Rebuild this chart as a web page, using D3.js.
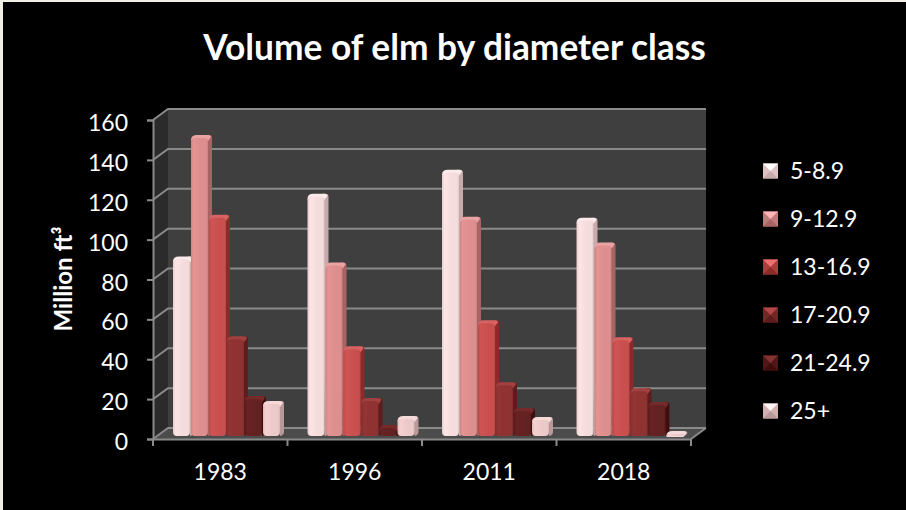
<!DOCTYPE html>
<html><head><meta charset="utf-8">
<script src="https://cdn.jsdelivr.net/npm/d3@7"></script>
<style>html,body{margin:0;padding:0;background:#000}svg{display:block}text{font-family:Lato,"Open Sans",sans-serif;fill:#fff}</style>
</head><body><svg id="c" width="906" height="510"></svg>
<script>
const years = ["1983","1996","2011","2018"];
const classes = ["5-8.9","9-12.9","13-16.9","17-20.9","21-24.9","25+"];
const v5_8  = [88.5,120,132,108];
const v9_12 = [149.5,85.5,108.5,95.5];
const v13_16= [109.5,43.5,56.5,48];
const v17_20= [48.5,17.5,25.5,22.5];
const v21_24= [18.5,4,12.5,15.5];
const v25   = [16,8.5,8,1];
const seriesValues = [v5_8,v9_12,v13_16,v17_20,v21_24,v25];
const yTicks = [0,20,40,60,80,100,120,140,160];
const faceColors = ["#f5dcdc","#dd8e8e","#c95050","#8f3232","#642020","#ecc9c9"];
const sideColors = ["#c8aaaa","#a86464","#8c2b2b","#5e1b1b","#401111","#b89898"];
const capColors  = ["#fbeaea","#e9a3a3","#d86464","#a04040","#762c2c","#f6dada"];

const svg = d3.select("#c");
const W=906,H=510;
svg.append("rect").attr("width",W).attr("height",H).attr("fill","#000");
svg.append("rect").attr("width",3).attr("height",H).attr("fill","#f2efe6");
svg.append("rect").attr("width",W).attr("height",2).attr("fill","#f2efe6");

const x0=153,x1=691,y0=439,y1=120,dx=15,dy=-11;
const x=d3.scaleBand().domain(years).range([x0,x1]);
const y=d3.scaleLinear().domain([0,160]).range([y0,y1]);
const inner=d3.scaleBand().domain(classes).range([20,128]);

const defs=svg.append("defs");
defs.append("filter").attr("id","soft").append("feGaussianBlur").attr("stdDeviation",0.5);
faceColors.forEach((c,i)=>{
  const g=defs.append("linearGradient").attr("id","f"+i);
  const d=d3.color(c);
  [[0,d.darker(.2)],[.15,d.brighter(.1)],[.6,d],[.9,d],[1,d.darker(.3)]].forEach(s=>g.append("stop").attr("offset",s[0]).attr("stop-color",s[1]));
});

const axisCol="#8a8a8a";
const poly=(pts,fill)=>svg.append("polygon").attr("points",pts.map(p=>p.join(",")).join(" ")).attr("fill",fill);
poly([[x0+dx,y1+dy],[x1+dx,y1+dy],[x1+dx,y0+dy],[x0+dx,y0+dy]],"#3f3f3f");
poly([[x0,y1],[x0+dx,y1+dy],[x0+dx,y0+dy],[x0,y0]],"#2b2b2b");
poly([[x0,y0],[x0+dx,y0+dy],[x1+dx,y0+dy],[x1,y0]],"#4c4c4c");

svg.append("g").selectAll("path").data(yTicks).join("path")
  .attr("fill","none").attr("stroke",axisCol).attr("stroke-width",2)
  .attr("d",t=>`M${x0},${y(t)}L${x0+dx},${y(t)+dy}H${x1+dx}`);
svg.append("path").attr("fill","none").attr("stroke",axisCol).attr("stroke-width",2)
  .attr("d",`M${x1},${y0}L${x1+dx},${y0+dy}`);

const yAxis=svg.append("g").attr("transform",`translate(${x0},0)`)
  .call(d3.axisLeft(y).tickValues(yTicks).tickSize(6).tickPadding(19).tickFormat(d3.format("d")));
const xAxis=svg.append("g").attr("transform",`translate(0,${y0})`)
  .call(d3.axisBottom(x).tickSize(0).tickPadding(25));
svg.append("g").selectAll("line").data(d3.range(5)).join("line")
  .attr("x1",i=>x0+i*x.bandwidth()).attr("x2",i=>x0+i*x.bandwidth())
  .attr("y1",y0).attr("y2",y0+7).attr("stroke",axisCol).attr("stroke-width",2);
[yAxis,xAxis].forEach(a=>{
  a.selectAll(".domain").attr("stroke",axisCol).attr("stroke-width",2);
  a.selectAll(".tick line").attr("stroke",axisCol).attr("stroke-width",2);
  a.selectAll("text").attr("font-size",23).attr("font-family","Lato").attr("fill","#fff");
});
yAxis.selectAll("text").attr("dy","0.46em");

const baseUp=3, barW=17, sd=4, sdy=3;
const barsLayer=svg.append("g").attr("filter","url(#soft)");
classes.forEach((c,si)=>{
  const g=barsLayer.append("g");
  years.forEach((yr,yi)=>{
    const bx=x(yr)+inner(c), top=y(seriesValues[si][yi])-baseUp, bot=y0-baseUp;
    const r=Math.min(4,(bot-top)/2);
    const rr=bx+barW+sd;
    // side with a rounded shoulder
    g.append("path").attr("fill",sideColors[si])
      .attr("d",`M${bx+barW-2},${top-sdy}H${rr-3}Q${rr},${top-sdy} ${rr},${top}V${bot-sdy-1}Q${rr},${bot-1} ${bx+barW},${bot}Z`);
    // dome-like top
    g.append("path").attr("fill",capColors[si])
      .attr("d",`M${bx},${top+2}Q${bx},${top-sdy} ${bx+sd+2},${top-sdy}H${rr-4}Q${rr-1},${top-sdy} ${rr-1},${top-1}L${bx+barW},${top+3}H${bx}Z`);
    g.append("path").attr("fill",`url(#f${si})`)
      .attr("d",`M${bx},${top+r}Q${bx},${top} ${bx+r},${top}H${bx+barW-r}Q${bx+barW},${top} ${bx+barW},${top+r}V${bot-r}Q${bx+barW},${bot} ${bx+barW-r},${bot}H${bx+r}Q${bx},${bot} ${bx},${bot-r}Z`);
  });
});

svg.append("text").attr("x",454.5).attr("y",60).attr("text-anchor","middle")
  .attr("font-size",35.3).attr("font-weight",700).text("Volume of elm by diameter class");
svg.append("text").attr("transform","translate(72,279) rotate(-90)").attr("text-anchor","middle")
  .attr("font-size",24).attr("font-weight",700).text("Million ft³");

const ly=d3.scalePoint().domain(classes).range([171,411]);
const leg=svg.append("g").selectAll("g").data(classes).join("g")
  .attr("transform",d=>`translate(763,${ly(d)})`);
const s=15,h=7.5;
leg.each(function(d,i){
  const g=d3.select(this).append("g").attr("filter","url(#soft)");
  const tri=(p,f)=>g.append("polygon").attr("points",p.map(q=>q.join(",")).join(" ")).attr("fill",f);
  tri([[0,-h],[s,-h],[s,h],[0,h]],d3.interpolateRgb(faceColors[i],sideColors[i])(.5));
  tri([[0,-h],[s,-h],[s/2,0]],d3.color(capColors[i]).brighter(.3));
  tri([[0,h],[s,h],[s/2,0]],sideColors[i]);
});
leg.append("text").attr("x",27).attr("y",8).attr("font-size",23).text(d=>d);
</script></body></html>
